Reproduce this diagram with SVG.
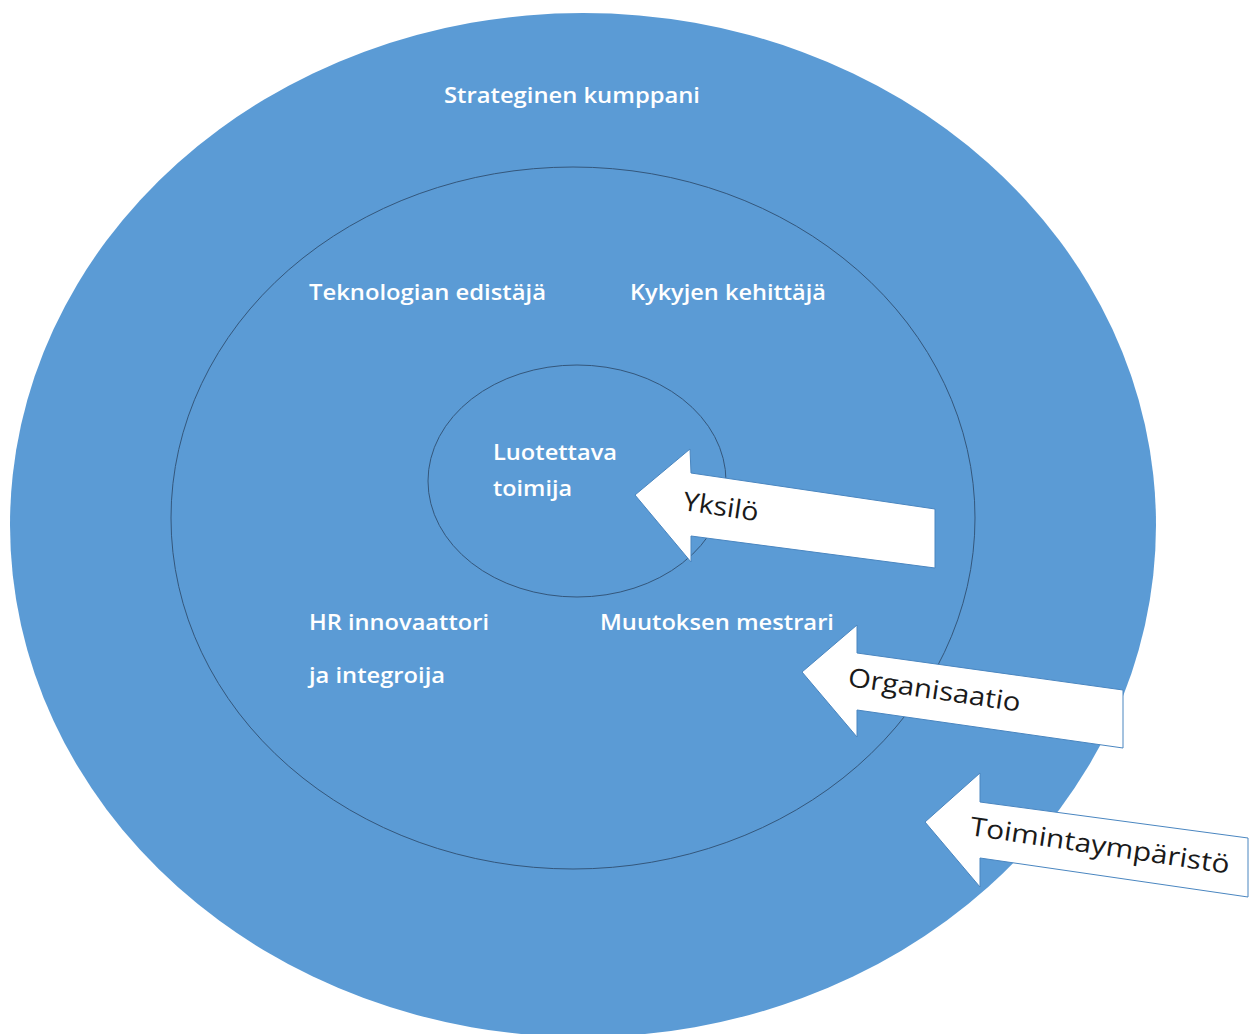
<svg xmlns="http://www.w3.org/2000/svg" width="1254" height="1034" viewBox="0 0 1254 1034">
<style>
.ring{fill:#5b9bd5;}
.inner{fill:#5b9bd5;stroke:#34577c;stroke-width:1;}
.lbl{font-family:"Open Sans","Noto Sans","DejaVu Sans",sans-serif;font-size:21px;font-weight:600;fill:#ffffff;}
.arr{fill:#ffffff;stroke:#4a86c0;stroke-width:1;}
.alb{font-family:"Open Sans","Noto Sans","DejaVu Sans",sans-serif;font-size:26px;fill:#1a1a1a;}
</style>
<rect width="1254" height="1034" fill="#ffffff"/>
<g id="outer">
<ellipse class="ring" cx="583" cy="525" rx="573" ry="512"/>
<text class="lbl" x="444" y="103" textLength="256" lengthAdjust="spacingAndGlyphs">Strateginen kumppani</text>
</g>
<g id="middle">
<ellipse class="inner" cx="573" cy="518" rx="402" ry="351"/>
<text class="lbl" x="309" y="300" textLength="237" lengthAdjust="spacingAndGlyphs">Teknologian edistäjä</text>
<text class="lbl" x="630" y="300" textLength="196" lengthAdjust="spacingAndGlyphs">Kykyjen kehittäjä</text>
<text class="lbl" x="309" y="630" textLength="180" lengthAdjust="spacingAndGlyphs">HR innovaattori</text>
<text class="lbl" x="309" y="683" textLength="136" lengthAdjust="spacingAndGlyphs">ja integroija</text>
<text class="lbl" x="600" y="630" textLength="234" lengthAdjust="spacingAndGlyphs">Muutoksen mestrari</text>
</g>
<g id="inner">
<ellipse class="inner" cx="577" cy="481" rx="149" ry="116"/>
<text class="lbl" x="493" y="460" textLength="124" lengthAdjust="spacingAndGlyphs">Luotettava</text>
<text class="lbl" x="493" y="496" textLength="79" lengthAdjust="spacingAndGlyphs">toimija</text>
</g>
<g id="connectors">
<g id="arrow-yksilo">
<polygon class="arr" points="635,495 690,449 691,473 935,509 935,568 691,536 691,562"/>
<text class="alb" transform="translate(682,510) rotate(8.5)" textLength="76" lengthAdjust="spacingAndGlyphs">Yksilö</text>
</g>
<g id="arrow-organisaatio">
<polygon class="arr" points="802,672 857,625 857,653 1123,690 1123,748 857,710 857,737"/>
<text class="alb" transform="translate(847,686) rotate(8.5)" textLength="174" lengthAdjust="spacingAndGlyphs">Organisaatio</text>
</g>
<g id="arrow-toimintaymparisto">
<polygon class="arr" points="925,822 980,773 980,802 1248,838 1248,897 980,858 980,887"/>
<text class="alb" transform="translate(969,835) rotate(8.5)" textLength="262" lengthAdjust="spacingAndGlyphs">Toimintaympäristö</text>
</g>
</g>
</svg>
